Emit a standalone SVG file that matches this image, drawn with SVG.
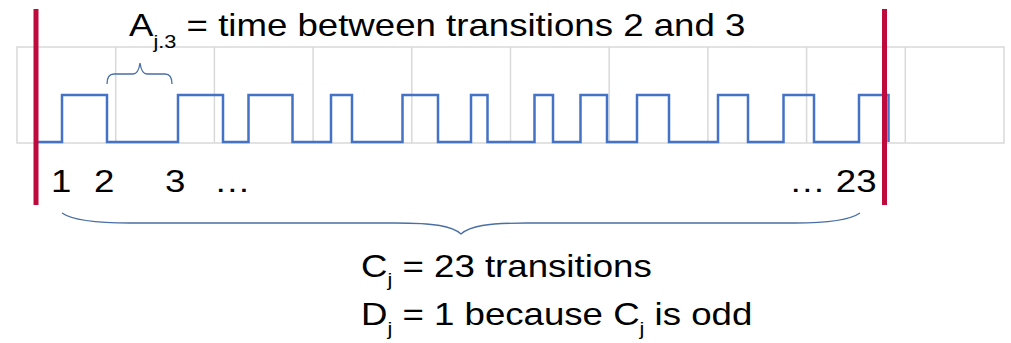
<svg xmlns="http://www.w3.org/2000/svg" width="1011" height="343" viewBox="0 0 1011 343">
<style>
.grid{fill:none;stroke:#d9d9d9;stroke-width:1.5}
.wave{fill:none;stroke:#4472c4;stroke-width:2.5;stroke-linejoin:miter}
.mark{stroke:#be0a3c;stroke-width:5}
.brace{fill:none;stroke:#4a6fa5;stroke-width:1.3}
text{font-family:"Liberation Sans",Arial,sans-serif;fill:#000}
.big{font-size:32px}
.sub{font-size:19px}
</style>
<rect width="1011" height="343" fill="#fff"/>
<g id="grid">
<rect class="grid" x="17" y="47" width="987" height="96"/>
<path class="grid" d="M115.7,47V143M214.4,47V143M313.1,47V143M411.8,47V143M510.5,47V143M609.2,47V143M707.9,47V143M806.6,47V143M905.3,47V143"/>
</g>
<g id="connectors">
<path id="waveform" class="wave" d="M36,142H62V95H107V142H178V95H223V142H248.5V95H292.5V142H331V95H352V142H402.5V95H438V142H471V95H487.5V142H534.5V95H553V142H580.5V95H607V142H637V95H669V142H718V95H748V142H783.5V95H814V142H859V95H888.5V142"/>
<path id="brace-a" class="brace" d="M107,84C107,78 109,74 114,74H133C137,74 139,70 140,63C141,70 143,74 147,74H165C170,74 172,78 172,84"/>
<path id="brace-c" class="brace" d="M62,213C72,220 95,223 130,223H395C435,223 452,226 461,234C470,226 487,223 527,223H795C830,223 850,220 860,213"/>
</g>
<g id="window-marks">
<line class="mark" x1="36" y1="9" x2="36" y2="205"/>
<line class="mark" x1="884.5" y1="9" x2="884.5" y2="205"/>
</g>
<g id="title">
<text class="big" transform="translate(129,36) scale(1.145,1)">A<tspan class="sub" dy="12">j.3</tspan><tspan dy="-12"> = time between transitions 2 and 3</tspan></text>
</g>
<g id="labels">
<text class="big" transform="translate(51,192) scale(1.145,1)">1</text>
<text class="big" transform="translate(94,192) scale(1.145,1)">2</text>
<text class="big" transform="translate(165,192) scale(1.145,1)">3</text>
<text class="big" transform="translate(214,192) scale(1.145,1)">…</text>
<text class="big" transform="translate(789,192) scale(1.145,1)">… 23</text>
</g>
<g id="summary">
<text class="big" transform="translate(361,277) scale(1.145,1)">C<tspan class="sub" dy="9">j</tspan><tspan dy="-9"> = 23 transitions</tspan></text>
<text class="big" transform="translate(361,325) scale(1.145,1)">D<tspan class="sub" dy="10">j</tspan><tspan dy="-10"> = 1 because C</tspan><tspan class="sub" dy="10">j</tspan><tspan dy="-10"> is odd</tspan></text>
</g>
</svg>
